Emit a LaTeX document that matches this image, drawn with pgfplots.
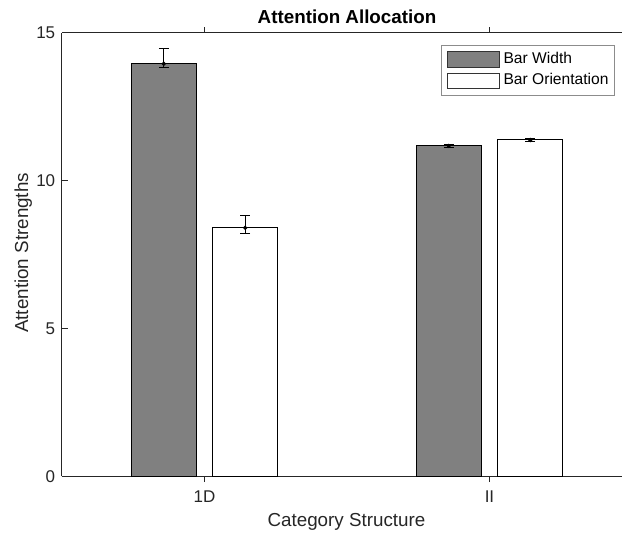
\documentclass[border=0pt]{standalone}
\usepackage{pgfplots}
\pgfplotsset{compat=1.18}
\usepackage{fontspec}
\setmainfont{Liberation Sans}
\definecolor{axgray}{RGB}{38,38,38}
\definecolor{barGray}{RGB}{128,128,128}
\begin{document}
\begin{tikzpicture}
\begin{axis}[
  scale only axis,
  width=280pt, height=221.7pt,
  xmin=0.5, xmax=2.465, ymin=0, ymax=15,
  axis y line*=left,
  tick align=inside,
  ybar, bar width=0.2286, bar shift=0pt,
  xtick={1,2}, xticklabels={1D,II},
  ytick={0,5,10,15},
  /pgf/number format/assume math mode=true,
  major tick length=2.85pt,
  tick style={axgray, line width=0.5pt},
  axis line style={axgray, line width=0.5pt},
  ticklabel style={font=\fontsize{8.5}{10}\selectfont, text=axgray},
  xticklabel style={anchor=base, inner sep=0pt, yshift=-10pt},
  yticklabel style={anchor=east, inner sep=0pt, xshift=-3.2pt},
  title={Attention Allocation},
  every axis title shift=0pt,
  title style={font=\bfseries\fontsize{9.4}{11}\selectfont, at={(axis description cs:0.509,1.0203)}, anchor=base, inner sep=0pt},
  xlabel={Category Structure},
  xlabel style={font=\fontsize{9.4}{11}\selectfont, text=axgray, at={(axis description cs:0.508,-0.1128)}, anchor=base, inner sep=0pt},
  ylabel={Attention Strengths},
  ylabel style={font=\fontsize{9.4}{11}\selectfont, text=axgray, at={(axis description cs:-0.0607,0.504)}, anchor=base, inner sep=0pt},
  legend style={at={(axis description cs:0.9875,0.9735)}, anchor=north east,
    draw=black!45, line width=0.5pt, font=\fontsize{7.8}{9}\selectfont,
    nodes={inner sep=0pt},
    /tikz/every odd column/.append style={column sep=1.7pt},
    cells={anchor=west}, inner xsep=3pt, inner ysep=3pt, row sep=2.35pt},
  legend cell align=left,
  error bars/error bar style={black, line width=0.5pt},
  error bars/error mark options={black, line width=0.5pt, mark size=2.5pt, rotate=90},
]
\addplot[fill=barGray, draw=black, line width=0.5pt,
  mark=*, mark size=0.8pt, mark options={black, fill=black},
  legend image code/.code={\draw[fill=barGray, draw=black!80, line width=0.5pt] (0pt,-3.9pt) rectangle (26pt,3.9pt);},
  error bars/.cd, y dir=both, y explicit]
  coordinates {(0.8571,13.96) += (0,0.50) -= (0,0.13)
               (1.8571,11.18) += (0,0.05) -= (0,0.05)};
\addlegendentry{Bar Width}
\addplot[fill=white, draw=black, line width=0.5pt,
  mark=*, mark size=0.8pt, mark options={black, fill=black},
  legend image code/.code={\draw[fill=white, draw=black!80, line width=0.5pt] (0pt,-3.9pt) rectangle (26pt,3.9pt);},
  error bars/.cd, y dir=both, y explicit]
  coordinates {(1.1429,8.41) += (0,0.42) -= (0,0.19)
               (2.1429,11.38) += (0,0.06) -= (0,0.06)};
\addlegendentry{Bar Orientation}
\end{axis}
\pgfresetboundingbox
\path[use as bounding box] ([xshift=-31pt,yshift=-31pt]current axis.south west) rectangle ([yshift=16.5pt]current axis.north east);
\end{tikzpicture}
\end{document}
